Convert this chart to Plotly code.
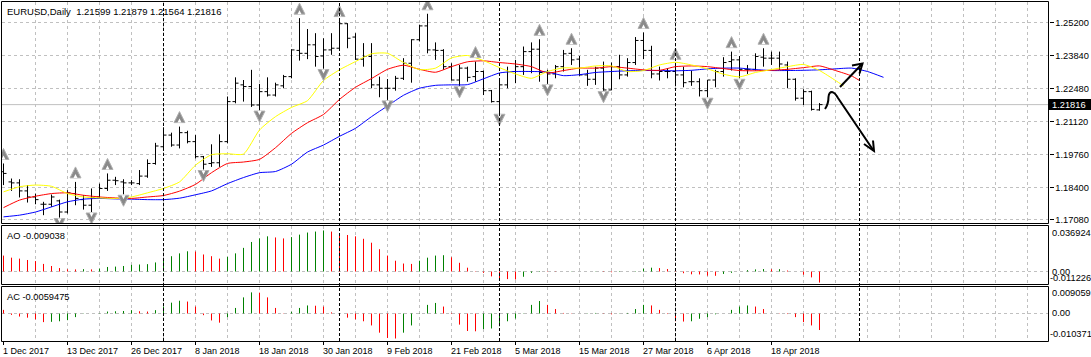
import plotly.graph_objects as go

# ---------------- data ----------------
SYMBOL = "EURUSD"
TIMEFRAME = "Daily"

OPEN = [1.1905, 1.1863, 1.1859, 1.1826, 1.1801, 1.1771, 1.1771, 1.1785, 1.1739, 1.1815,
        1.1790, 1.1767, 1.1801, 1.1836, 1.1870, 1.1863, 1.1859, 1.1856, 1.1887, 1.1939,
        1.2008, 1.2056, 1.2015, 1.2066, 1.2029, 1.1967, 1.1939, 1.1942, 1.2029, 1.2194,
        1.2263, 1.2256, 1.2180, 1.2235, 1.2221, 1.2259, 1.2297, 1.2405, 1.2393, 1.2428,
        1.2382, 1.2407, 1.2414, 1.2515, 1.2460, 1.2369, 1.2380, 1.2263, 1.2249, 1.2249,
        1.2290, 1.2352, 1.2449, 1.2506, 1.2407, 1.2405, 1.2338, 1.2283, 1.2332, 1.2297,
        1.2318, 1.2239, 1.2194, 1.2263, 1.2318, 1.2338, 1.2400, 1.2410, 1.2314, 1.2308,
        1.2338, 1.2393, 1.2369, 1.2304, 1.2286, 1.2332, 1.2242, 1.2338, 1.2304, 1.2355,
        1.2446, 1.2405, 1.2308, 1.2318, 1.2318, 1.2304, 1.2276, 1.2276, 1.2239, 1.2283,
        1.2318, 1.2359, 1.2366, 1.2327, 1.2327, 1.2377, 1.2373, 1.2373, 1.2345, 1.2286,
        1.2208, 1.2235, 1.21599]
HIGH = [1.1939, 1.1877, 1.1874, 1.1850, 1.1815, 1.1781, 1.1811, 1.1790, 1.1829, 1.1863,
        1.1808, 1.1836, 1.1856, 1.1898, 1.1884, 1.1874, 1.1870, 1.1912, 1.1956, 1.2024,
        1.2088, 1.2066, 1.2091, 1.2074, 1.2056, 1.1970, 1.2018, 1.2059, 1.2215, 1.2294,
        1.2283, 1.2325, 1.2267, 1.2294, 1.2272, 1.2304, 1.2410, 1.2538, 1.2493, 1.2476,
        1.2455, 1.2476, 1.2528, 1.2517, 1.2476, 1.2435, 1.2435, 1.2297, 1.2287, 1.2300,
        1.2373, 1.2451, 1.2511, 1.2556, 1.2438, 1.2410, 1.2352, 1.2345, 1.2338, 1.2359,
        1.2322, 1.2242, 1.2283, 1.2338, 1.2366, 1.2421, 1.2438, 1.2451, 1.2325, 1.2345,
        1.2407, 1.2414, 1.2382, 1.2325, 1.2338, 1.2359, 1.2355, 1.2387, 1.2373, 1.2460,
        1.2479, 1.2424, 1.2338, 1.2332, 1.2352, 1.2338, 1.2322, 1.2290, 1.2283, 1.2325,
        1.2377, 1.2400, 1.2382, 1.2345, 1.2393, 1.2414, 1.2400, 1.2400, 1.2359, 1.2290,
        1.2245, 1.2239, 1.21879]
LOW = [1.1850, 1.1826, 1.1799, 1.1778, 1.1771, 1.1726, 1.1760, 1.1716, 1.1733, 1.1767,
       1.1749, 1.1739, 1.1795, 1.1826, 1.1850, 1.1812, 1.1850, 1.1850, 1.1880, 1.1934,
       1.2001, 1.2008, 1.2001, 1.2022, 1.1960, 1.1914, 1.1925, 1.1925, 1.2022, 1.2187,
       1.2194, 1.2172, 1.2159, 1.2215, 1.2215, 1.2249, 1.2290, 1.2363, 1.2369, 1.2338,
       1.2330, 1.2387, 1.2407, 1.2414, 1.2366, 1.2338, 1.2249, 1.2212, 1.2201, 1.2239,
       1.2283, 1.2272, 1.2442, 1.2393, 1.2366, 1.2325, 1.2281, 1.2259, 1.2276, 1.2276,
       1.2221, 1.2190, 1.2146, 1.2249, 1.2270, 1.2304, 1.2311, 1.2276, 1.2267, 1.2290,
       1.2318, 1.2345, 1.2300, 1.2259, 1.2263, 1.2239, 1.2241, 1.2286, 1.2297, 1.2345,
       1.2369, 1.2290, 1.2281, 1.2290, 1.2270, 1.2253, 1.2259, 1.2215, 1.2212, 1.2253,
       1.2297, 1.2322, 1.2290, 1.2308, 1.2322, 1.2338, 1.2345, 1.2325, 1.2249, 1.2198,
       1.2180, 1.2157, 1.21564]
CLOSE = [1.1898, 1.1859, 1.1826, 1.1801, 1.1790, 1.1771, 1.1801, 1.1739, 1.1818, 1.1795,
         1.1767, 1.1799, 1.1836, 1.1870, 1.1868, 1.1859, 1.1859, 1.1887, 1.1939, 1.2011,
         1.2056, 1.2015, 1.2066, 1.2029, 1.1967, 1.1936, 1.1942, 1.2029, 1.2194, 1.2270,
         1.2256, 1.2180, 1.2235, 1.2221, 1.2263, 1.2297, 1.2407, 1.2393, 1.2428, 1.2380,
         1.2407, 1.2414, 1.2515, 1.2455, 1.2369, 1.2380, 1.2263, 1.2249, 1.2249, 1.2290,
         1.2352, 1.2449, 1.2506, 1.2407, 1.2405, 1.2338, 1.2283, 1.2332, 1.2294, 1.2318,
         1.2239, 1.2194, 1.2263, 1.2318, 1.2338, 1.2400, 1.2410, 1.2314, 1.2308, 1.2338,
         1.2391, 1.2366, 1.2304, 1.2286, 1.2332, 1.2242, 1.2338, 1.2304, 1.2355, 1.2446,
         1.2405, 1.2308, 1.2318, 1.2318, 1.2304, 1.2272, 1.2276, 1.2239, 1.2283, 1.2318,
         1.2355, 1.2366, 1.2327, 1.2327, 1.2380, 1.2373, 1.2373, 1.2349, 1.2286, 1.2208,
         1.2235, 1.2162, 1.21816]

# Alligator lines (bar index -> price)
JAW_X = list(range(0, 111, 2))
JAW = [1.1719, 1.1726, 1.1739, 1.1760, 1.1781, 1.1792, 1.1795, 1.1793, 1.1792, 1.1790,
       1.1790, 1.1796, 1.1810, 1.1826, 1.1856, 1.1881, 1.1901, 1.1906, 1.1936, 1.1986,
       1.2015, 1.2051, 1.2084, 1.2132, 1.2176, 1.2220, 1.2249, 1.2261, 1.2263, 1.2264,
       1.2288, 1.2312, 1.2318, 1.2318, 1.2316, 1.2301, 1.2305, 1.2314, 1.2318, 1.2321,
       1.2322, 1.2322, 1.2321, 1.2323, 1.2329, 1.2332, 1.2332, 1.2326, 1.2322, 1.2322,
       1.2323, 1.2325, 1.2329, 1.2332, 1.2318, 1.2294]
TEETH_X = list(range(0, 107, 2)) + [107]
TEETH = [1.1757, 1.1788, 1.1804, 1.1815, 1.1818, 1.1808, 1.1801, 1.1797, 1.1795, 1.1801,
         1.1807, 1.1825, 1.1853, 1.1901, 1.1939, 1.1945, 1.1956, 1.2004, 1.2063, 1.2107,
         1.2141, 1.2203, 1.2253, 1.2289, 1.2327, 1.2344, 1.2327, 1.2315, 1.2338, 1.2358,
         1.2362, 1.2355, 1.2349, 1.2338, 1.2312, 1.2322, 1.2332, 1.2332, 1.2338, 1.2332,
         1.2325, 1.2323, 1.2338, 1.2341, 1.2338, 1.2330, 1.2322, 1.2321, 1.2323, 1.2327,
         1.2334, 1.2341, 1.2322, 1.2300, 1.2281]
LIPS_X = list(range(0, 105, 2)) + [105]
LIPS = [1.1822, 1.1843, 1.1850, 1.1845, 1.1815, 1.1801, 1.1797, 1.1795, 1.1801, 1.1818,
        1.1836, 1.1863, 1.1932, 1.1975, 1.1979, 1.1978, 1.2077, 1.2132, 1.2170, 1.2198,
        1.2281, 1.2325, 1.2359, 1.2391, 1.2393, 1.2355, 1.2326, 1.2332, 1.2374, 1.2384,
        1.2363, 1.2334, 1.2308, 1.2290, 1.2318, 1.2333, 1.2332, 1.2341, 1.2341, 1.2318,
        1.2322, 1.2345, 1.2356, 1.2345, 1.2329, 1.2307, 1.2296, 1.2314, 1.2326, 1.2338,
        1.2347, 1.2322, 1.2281, 1.2259]

FRACTAL_UP_BARS = [0, 9, 13, 22, 37, 42, 53, 59, 67, 71, 80, 84, 91, 95]
FRACTAL_DOWN_BARS = [7, 11, 15, 25, 32, 40, 48, 57, 62, 68, 75, 88, 92]

AO = [0.0130, 0.0113, 0.0105, 0.0094, 0.0085, 0.0062, 0.0045, 0.0028, 0.0018, 0.0017,
      0.0019, 0.0017, 0.0023, 0.0037, 0.0040, 0.0045, 0.0054, 0.0057, 0.0060, 0.0074,
      0.0102, 0.0125, 0.0148, 0.0165, 0.0163, 0.0139, 0.0125, 0.0105, 0.0119, 0.0148,
      0.0193, 0.0241, 0.0270, 0.0287, 0.0278, 0.0270, 0.0281, 0.0301, 0.0318, 0.0326,
      0.0335, 0.0326, 0.0312, 0.0298, 0.0287, 0.0267, 0.0235, 0.0182, 0.0130, 0.0088,
      0.0065, 0.0062, 0.0088, 0.0113, 0.0130, 0.0133, 0.0116, 0.0071, 0.0031, 0.0003,
      -0.0011, -0.0040, -0.0057, -0.0062, -0.0065, -0.0043, -0.0011, 0.0004, 0.0003, 0.0002,
      0.0001, 0.0002, 0.0001, 0.0001, 0.0002, -0.0003, -0.0006, -0.0004, 0.0000, 0.0003,
      0.0023, 0.0031, 0.0028, 0.0020, 0.0003, -0.0014, -0.0023, -0.0024, -0.0034, -0.0035,
      -0.0020, -0.0011, 0.0001, 0.0011, 0.0017, 0.0020, 0.0018, 0.0019, 0.0008, 0.0000,
      -0.0026, -0.0048, -0.009038]
AC = [0.0013, -0.0005, -0.0011, -0.0015, -0.0021, -0.0031, -0.0030, -0.0028, -0.0024, -0.0013,
      -0.0001, 0.0000, 0.0001, 0.0007, 0.0008, 0.0009, 0.0012, 0.0008, 0.0007, 0.0012,
      0.0025, 0.0039, 0.0046, 0.0043, 0.0025, -0.0006, -0.0025, -0.0033, -0.0013, 0.0020,
      0.0058, 0.0076, 0.0075, 0.0058, 0.0020, 0.0001, 0.0006, 0.0020, 0.0029, 0.0028,
      0.0025, 0.0004, -0.0003, -0.0015, -0.0021, -0.0028, -0.0043, -0.0069, -0.0088, -0.0090,
      -0.0069, -0.0043, 0.0001, 0.0031, 0.0038, 0.0025, 0.0002, -0.0040, -0.0063, -0.0064,
      -0.0056, -0.0054, -0.0046, -0.0028, -0.0018, 0.0001, 0.0031, 0.0045, 0.0031, 0.0016,
      0.0002, 0.0001, 0.0000, 0.0001, 0.0002, -0.0001, -0.0003, -0.0001, 0.0002, 0.0016,
      0.0031, 0.0029, 0.0013, -0.0002, -0.0028, -0.0029, -0.0028, -0.0019, -0.0013, -0.0003,
      0.0000, 0.0013, 0.0025, 0.0029, 0.0025, 0.0016, 0.0000, -0.0001, -0.0002, -0.0013,
      -0.0031, -0.0043, -0.0059475]

DATE_TICK_BARS = [0, 8, 16, 24, 32, 40, 48, 56, 64, 72, 80, 88, 96]
DATE_TICK_LABELS = ["1 Dec 2017", "13 Dec 2017", "26 Dec 2017", "8 Jan 2018", "18 Jan 2018",
                    "30 Jan 2018", "9 Feb 2018", "21 Feb 2018", "5 Mar 2018", "15 Mar 2018",
                    "27 Mar 2018", "6 Apr 2018", "18 Apr 2018"]
MONTH_SEPARATOR_BARS = [20, 42, 62, 84, 107]
PRICE_TICKS = [1.25200, 1.23840, 1.22480, 1.21120, 1.19760, 1.18400, 1.17080]
AO_SCALE_LABELS = ["0.036924", "0.00", "-0.011226"]
AC_SCALE_LABELS = ["0.009059", "0.00", "-0.010371"]

# ---------------- geometry / style ----------------
W, H = 1091, 357
FONT = "Liberation Sans, Arial, sans-serif"
GRID = "#c0c0c0"
GREEN, RED = "#008000", "#ff0000"


def px(x):
    return x / W


def py(y):
    return 1 - y / H


LEFT, RIGHT = 1.5, 1048.5
MAIN_TOP, MAIN_BOT = 1.5, 223.5
AO_TOP, AO_BOT = 225.5, 284.5
AC_TOP, AC_BOT = 286.5, 341.5

BAR_PX = 8.0
X0 = -0.25
X1 = X0 + (RIGHT - LEFT) / BAR_PX

PRICE_PER_PX = 0.00041212
Y1 = PRICE_TICKS[0] + (22.5 - MAIN_TOP) * PRICE_PER_PX
Y0 = Y1 - (MAIN_BOT - MAIN_TOP) * PRICE_PER_PX

AO_PER_PX = 1 / 1225.0
AO_ZERO = 271.5
AO_RANGE = [-(AO_BOT - AO_ZERO) * AO_PER_PX, (AO_ZERO - AO_TOP) * AO_PER_PX]
AC_PER_PX = 1 / 2779.0
AC_ZERO = 313.5
AC_RANGE = [-(AC_BOT - AC_ZERO) * AC_PER_PX, (AC_ZERO - AC_TOP) * AC_PER_PX]

idx = list(range(len(CLOSE)))

fig = go.Figure()

# price bars
fig.add_trace(go.Ohlc(
    x=idx, open=OPEN, high=HIGH, low=LOW, close=CLOSE,
    increasing=dict(line=dict(color="black", width=1)),
    decreasing=dict(line=dict(color="black", width=1)),
    tickwidth=0.375, hoverinfo="skip", xaxis="x", yaxis="y"))

# alligator
for xs, ys, col in [(JAW_X, JAW, "#0000ff"), (TEETH_X, TEETH, "#ff0000"), (LIPS_X, LIPS, "#ffff00")]:
    fig.add_trace(go.Scatter(x=xs, y=ys, mode="lines",
                             line=dict(color=col, width=1, shape="spline", smoothing=0.6),
                             hoverinfo="skip", xaxis="x", yaxis="y"))

# fractals (arrow glyphs with a shallow notch)
UP_GAP, DOWN_GAP = 15, 12  # px from extreme to arrow tip
up_y = [HIGH[i] + UP_GAP * PRICE_PER_PX for i in FRACTAL_UP_BARS]
up_notch = [HIGH[i] + (UP_GAP - 7) * PRICE_PER_PX for i in FRACTAL_UP_BARS]
dn_y = [LOW[i] - DOWN_GAP * PRICE_PER_PX for i in FRACTAL_DOWN_BARS]
dn_notch = [LOW[i] - (DOWN_GAP - 7) * PRICE_PER_PX for i in FRACTAL_DOWN_BARS]
fig.add_trace(go.Scatter(x=FRACTAL_UP_BARS, y=up_y, mode="markers",
                         marker=dict(symbol="arrow-up", size=11, color="#8a8a8a",
                                     line=dict(width=1, color="#b0b0b0")),
                         hoverinfo="skip", xaxis="x", yaxis="y"))
fig.add_trace(go.Scatter(x=FRACTAL_UP_BARS, y=up_notch, mode="markers",
                         marker=dict(symbol="arrow-up", size=4, color="white", line=dict(width=0)),
                         hoverinfo="skip", xaxis="x", yaxis="y"))
fig.add_trace(go.Scatter(x=FRACTAL_DOWN_BARS, y=dn_y, mode="markers",
                         marker=dict(symbol="arrow-down", size=11, color="#8a8a8a",
                                     line=dict(width=1, color="#b0b0b0")),
                         hoverinfo="skip", xaxis="x", yaxis="y"))
fig.add_trace(go.Scatter(x=FRACTAL_DOWN_BARS, y=dn_notch, mode="markers",
                         marker=dict(symbol="arrow-down", size=4, color="white", line=dict(width=0)),
                         hoverinfo="skip", xaxis="x", yaxis="y"))


def histogram(vals, xa, ya):
    gx, gy, rx, ry = [], [], [], []
    for i, v in enumerate(vals):
        up = i > 0 and v > vals[i - 1]
        tx, ty = (gx, gy) if up else (rx, ry)
        tx += [i, i, None]
        ty += [0, v, None]
    return [go.Scatter(x=gx, y=gy, mode="lines", line=dict(color=GREEN, width=1),
                       hoverinfo="skip", xaxis=xa, yaxis=ya),
            go.Scatter(x=rx, y=ry, mode="lines", line=dict(color=RED, width=1),
                       hoverinfo="skip", xaxis=xa, yaxis=ya)]


for t in histogram(AO, "x2", "y2"):
    fig.add_trace(t)
for t in histogram(AC, "x3", "y3"):
    fig.add_trace(t)

# ---------------- axes ----------------
grid_bars = list(range(4, 129, 4))
xcommon = dict(range=[X0, X1], domain=[px(LEFT), px(RIGHT)], tickmode="array", tickvals=grid_bars,
               showticklabels=False, ticks="", showgrid=True, gridcolor=GRID, griddash="3px,3px",
               gridwidth=1, zeroline=False, showline=False, automargin=False, fixedrange=True)
fig.update_layout(
    xaxis=dict(**xcommon, anchor="y", rangeslider=dict(visible=False)),
    xaxis2=dict(**xcommon, anchor="y2", matches="x"),
    xaxis3=dict(**xcommon, anchor="y3", matches="x"),
    yaxis=dict(domain=[py(MAIN_BOT), py(MAIN_TOP)], range=[Y0, Y1], side="right", anchor="x",
               tickmode="array", tickvals=PRICE_TICKS, ticktext=[f"{v:.5f}" for v in PRICE_TICKS],
               ticks="outside", ticklen=4, tickcolor="black", tickwidth=1,
               tickfont=dict(family=FONT, size=9.3, color="black"),
               showgrid=True, gridcolor=GRID, griddash="3px,3px", gridwidth=1,
               zeroline=False, showline=False, automargin=False, fixedrange=True),
    yaxis2=dict(domain=[py(AO_BOT), py(AO_TOP)], range=AO_RANGE, anchor="x2", tickmode="array",
                tickvals=[0], showticklabels=False, ticks="", showgrid=True, gridcolor=GRID,
                griddash="3px,3px", zeroline=False, showline=False, automargin=False, fixedrange=True),
    yaxis3=dict(domain=[py(AC_BOT), py(AC_TOP)], range=AC_RANGE, anchor="x3", tickmode="array",
                tickvals=[0], showticklabels=False, ticks="", showgrid=True, gridcolor=GRID,
                griddash="3px,3px", zeroline=False, showline=False, automargin=False, fixedrange=True),
)

# ---------------- shapes ----------------
shapes = []
# bid line and its label box
shapes.append(dict(type="line", xref="paper", yref="y", x0=px(LEFT), x1=px(RIGHT),
                   y0=CLOSE[-1], y1=CLOSE[-1], line=dict(color=GRID, width=1), layer="below"))
shapes.append(dict(type="rect", xref="paper", yref="y", x0=px(1049), x1=px(1091),
                   y0=CLOSE[-1] - 5.5 * PRICE_PER_PX, y1=CLOSE[-1] + 5.5 * PRICE_PER_PX,
                   fillcolor="black", line=dict(width=0), layer="above"))
# month separators
for b in MONTH_SEPARATOR_BARS:
    shapes.append(dict(type="line", xref="x", yref="paper", x0=b, x1=b, y0=py(AC_BOT - 0.5),
                       y1=py(MAIN_TOP + 0.5), line=dict(color="black", width=1, dash="3px,2px"),
                       layer="above"))
# panel frames
for top, bot in [(MAIN_TOP, MAIN_BOT), (AO_TOP, AO_BOT), (AC_TOP, AC_BOT)]:
    shapes.append(dict(type="rect", xref="paper", yref="paper", x0=px(LEFT), x1=px(RIGHT),
                       y0=py(bot), y1=py(top), line=dict(color="black", width=1),
                       fillcolor="rgba(0,0,0,0)", layer="above"))
# date tick marks
for b in DATE_TICK_BARS:
    shapes.append(dict(type="line", xref="x3", yref="paper", x0=b, x1=b, y0=py(AC_BOT),
                       y1=py(AC_BOT + 3.5), line=dict(color="black", width=1)))


# hand-drawn arrows (pixel coordinates of the drawing)
def path(cmds):
    out = []
    for c in cmds:
        if isinstance(c, str):
            out.append(c)
        else:
            out.append(f"{px(c[0]):.6f},{py(c[1]):.6f}")
    return " ".join(out)


arrow_style = dict(type="path", xref="paper", yref="paper", line=dict(color="black", width=2),
                   fillcolor="rgba(0,0,0,0)", layer="above")
shapes.append(dict(**arrow_style, path=path(["M", (840, 87), "L", (862.5, 63.5)])))
shapes.append(dict(**arrow_style, path=path(["M", (852, 65.5), "L", (862.5, 63.5), "L", (859.5, 73.5)])))
shapes.append(dict(**arrow_style, path=path(["M", (825, 109), "Q", (828.5, 104), (828.5, 97),
                                             "Q", (829, 92), (832, 92), "Q", (835, 92.5), (838, 98),
                                             "L", (873.5, 150.5)])))
shapes.append(dict(**arrow_style, path=path(["M", (864, 144), "L", (874, 151), "L", (873, 140.5)])))

# ---------------- texts ----------------
annotations = []


def label(x, y, text, size=9.3, color="black"):
    return dict(x=px(x), y=py(y), xref="paper", yref="paper", text=text, showarrow=False,
                xanchor="left", yanchor="middle", borderpad=0, borderwidth=0,
                font=dict(family=FONT, size=size, color=color))


annotations.append(label(7, 11.5, f"{SYMBOL},{TIMEFRAME}\u00a0\u00a0{OPEN[-1]:.5f} {HIGH[-1]:.5f} "
                                    f"{LOW[-1]:.5f} {CLOSE[-1]:.5f}", size=9.5))
annotations.append(label(7, 235.5, f"AO {AO[-1]:.6f}"))
annotations.append(label(7, 296.5, f"AC {AC[-1]:.7f}"))
annotations.append(dict(x=px(1052), y=CLOSE[-1], xref="paper", yref="y", text=f"{CLOSE[-1]:.5f}",
                        showarrow=False, xanchor="left", yanchor="middle", borderpad=0, borderwidth=0,
                        font=dict(family=FONT, size=9.3, color="white")))
for txt, yy in zip(AO_SCALE_LABELS, [233.2, 271.5, 277.5]):
    annotations.append(label(1052 if not txt.startswith("-") else 1050, yy, txt))
for txt, yy in zip(AC_SCALE_LABELS, [292.8, 313.3, 334.2]):
    annotations.append(label(1052 if not txt.startswith("-") else 1050, yy, txt))
for b, txt in zip(DATE_TICK_BARS, DATE_TICK_LABELS):
    annotations.append(dict(x=b, y=py(351), xref="x3", yref="paper", text=txt, showarrow=False,
                            xanchor="left", yanchor="middle", xshift=-0.5, borderpad=0, borderwidth=0,
                            font=dict(family=FONT, size=9, color="black")))

fig.update_layout(
    template="none", width=W, height=H, margin=dict(l=0, r=0, t=0, b=0, pad=0),
    paper_bgcolor="white", plot_bgcolor="white", showlegend=False, hovermode=False,
    shapes=shapes, annotations=annotations,
)

fig.write_html("out.html", config={"displayModeBar": False},
               post_script="document.body.style.margin='0';document.body.style.overflow='hidden';")
